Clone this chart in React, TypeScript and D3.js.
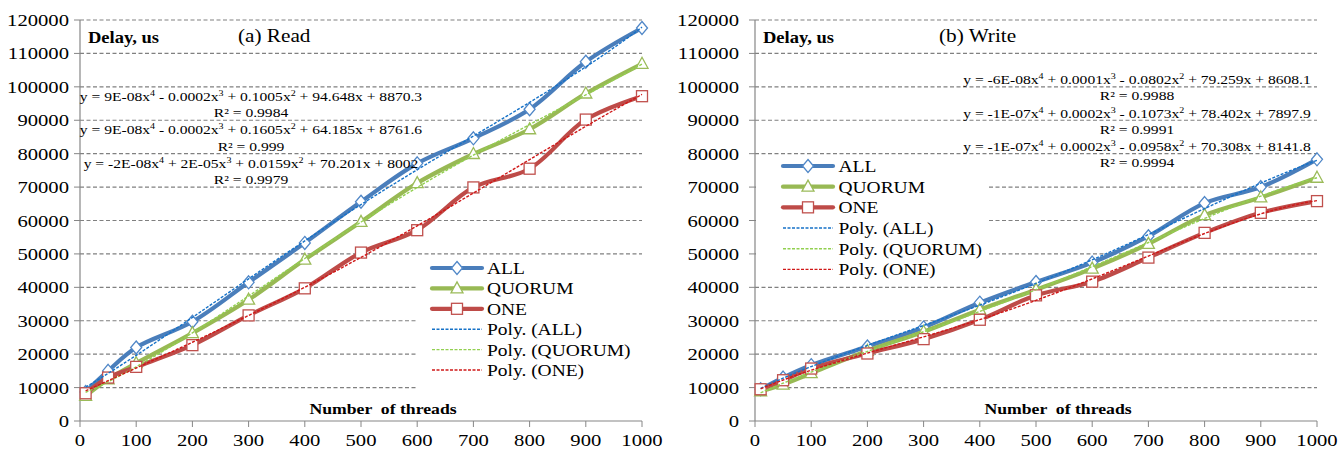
import React from "react";
import * as d3 from "d3";

// ---------- data ----------
const threads = [10, 50, 100, 200, 300, 400, 500, 600, 700, 800, 900, 1000];

const readAll = [8700, 15000, 22000, 29700, 41500, 53300, 65600, 77100, 84600, 93300, 107500, 117600];
const readQuorum = [7500, 12500, 17300, 26300, 36300, 48300, 59600, 71200, 79900, 87300, 98000, 106900];
const readOne = [8300, 13000, 16200, 22700, 31600, 39700, 50400, 57100, 69900, 75500, 90200, 97200];

const writeAll = [9500, 13000, 16700, 22300, 28000, 35400, 41600, 47400, 55300, 65200, 70000, 78300];
const writeQuorum = [8900, 10900, 14300, 21000, 26700, 33300, 39300, 45600, 53000, 61600, 66900, 72800];
const writeOne = [9500, 12200, 15700, 20200, 24500, 30300, 37600, 41700, 48900, 56300, 62300, 65800];

const yTicks = [0, 10000, 20000, 30000, 40000, 50000, 60000, 70000, 80000, 90000, 100000, 110000, 120000];
const xTicks = [0, 100, 200, 300, 400, 500, 600, 700, 800, 900, 1000];

const seriesNames = ["ALL", "QUORUM", "ONE"];
const trendNames = ["Poly. (ALL)", "Poly. (QUORUM)", "Poly. (ONE)"];

const readEquations = [
  "y = 9E-08x^4 - 0.0002x^3 + 0.1005x^2 + 94.648x + 8870.3",
  "y = 9E-08x^4 - 0.0002x^3 + 0.1605x^2 + 64.185x + 8761.6",
  "y = -2E-08x^4 + 2E-05x^3 + 0.0159x^2 + 70.201x + 8002",
];
const readR2 = ["R² = 0.9984", "R² = 0.999", "R² = 0.9979"];
const writeEquations = [
  "y = -6E-08x^4 + 0.0001x^3 - 0.0802x^2 + 79.259x + 8608.1",
  "y = -1E-07x^4 + 0.0002x^3 - 0.1073x^2 + 78.402x + 7897.9",
  "y = -1E-07x^4 + 0.0002x^3 - 0.0958x^2 + 70.308x + 8141.8",
];
const writeR2 = ["R² = 0.9988", "R² = 0.9991", "R² = 0.9994"];

// ---------- styles ----------
const lineColors = ["#4A7EBB", "#98B954", "#BE4B48"];
const markerColors = ["#5087C7", "#9BBB59", "#C0504D"];
const trendColors = ["#1672C8", "#92D050", "#D01818"];
const FONT = "Liberation Serif, Times New Roman, Times, serif";
const SX = 1.18;

function polyFit(xs: number[], ys: number[], deg: number) {
  const n = deg + 1;
  const A: number[][] = Array.from({ length: n }, () => new Array(n + 1).fill(0));
  xs.forEach((x0, i) => {
    const x = x0 / 1000;
    const pw: number[] = [];
    for (let k = 0; k < 2 * n; k++) pw.push(Math.pow(x, k));
    for (let r = 0; r < n; r++) {
      for (let c = 0; c < n; c++) A[r][c] += pw[r + c];
      A[r][n] += ys[i] * pw[r];
    }
  });
  for (let col = 0; col < n; col++) {
    let piv = col;
    for (let r = col + 1; r < n; r++) if (Math.abs(A[r][col]) > Math.abs(A[piv][col])) piv = r;
    [A[col], A[piv]] = [A[piv], A[col]];
    for (let r = 0; r < n; r++) {
      if (r === col) continue;
      const f = A[r][col] / A[col][col];
      for (let c = col; c <= n; c++) A[r][c] -= f * A[col][c];
    }
  }
  const coef = A.map((row, i) => row[n] / row[i]);
  return (x0: number) => {
    const x = x0 / 1000;
    return coef.reduce((s, c, k) => s + c * Math.pow(x, k), 0);
  };
}

function T(props: any) {
  const { x, y, size, anchor = "start", weight = "normal", sx = SX, children } = props;
  return (
    <g transform={`translate(${x},${y}) scale(${sx},1)`}>
      <text
        fontSize={size}
        textAnchor={anchor}
        fontWeight={weight}
        fill="#000"
        style={{ whiteSpace: "pre", fontFamily: FONT }}
      >
        {children}
      </text>
    </g>
  );
}

function Eq({ x, y, str }: { x: number; y: number; str: string }) {
  const parts = str.split(/\^(\d)/);
  return (
    <T x={x} y={y} size={13.2} anchor="middle">
      {parts.map((p, i) =>
        i % 2 ? (
          <tspan key={i} fontSize={8.5} dy={-5}>
            {p}
          </tspan>
        ) : (
          <tspan key={i} dy={i > 0 ? 5 : 0}>
            {p}
          </tspan>
        )
      )}
    </T>
  );
}

function Marker({ kind, x, y, color }: { kind: number; x: number; y: number; color: string }) {
  if (kind === 0)
    return (
      <path
        d={`M${x},${y - 6.5}L${x + 5.5},${y}L${x},${y + 6.5}L${x - 5.5},${y}Z`}
        fill="#fff"
        stroke={color}
        strokeWidth={1.3}
      />
    );
  if (kind === 1)
    return (
      <path
        d={`M${x},${y - 6.5}L${x + 6},${y + 4.5}L${x - 6},${y + 4.5}Z`}
        fill="#fff"
        stroke={color}
        strokeWidth={1.3}
      />
    );
  return <rect x={x - 5.5} y={y - 5.5} width={11} height={11} fill="#fff" stroke={color} strokeWidth={1.3} />;
}

type PanelProps = {
  xr: [number, number];
  series: number[][];
  title: string;
  titleX: number;
  delayX: number;
  labelRight: number;
  eqs: string[];
  r2: string[];
  eqX: number;
  eqY: number[];
  legendBox: { x: number; y: number; w: number; h: number };
  legendY0: number;
  legendStep: number;
  legendLineX: [number, number];
  legendTextX: number;
  xTitleX: number;
};

function Panel(p: PanelProps) {
  const x = d3.scaleLinear().domain([0, 1000]).range(p.xr);
  const y = d3.scaleLinear().domain([0, 120000]).range([421, 20]);
  const line = d3
    .line<number>()
    .x((_, i) => x(threads[i]))
    .y((d) => y(d))
    .curve(d3.curveCatmullRom.alpha(0.5));
  const samples = d3.range(10, 1000.01, 5);
  const trends = p.series.map((s) => {
    const f = polyFit(threads, s, 4);
    return d3
      .line<number>()
      .x((d) => x(d))
      .y((d) => y(f(d)))(samples);
  });
  const x0 = p.xr[0];
  const x1 = p.xr[1];
  const lb = p.legendBox;
  return (
    <g>
      {yTicks.map((t) =>
        t > 0 ? (
          <line
            key={t}
            x1={x0}
            x2={x1}
            y1={y(t)}
            y2={y(t)}
            stroke="#808080"
            strokeWidth={1.2}
            strokeDasharray="4,2.5"
          />
        ) : null
      )}
      <rect x={lb.x} y={lb.y} width={lb.w} height={lb.h} fill="#fff" />
      {/* axes */}
      <line x1={x0} x2={x0} y1={y(120000)} y2={y(0)} stroke="#868686" strokeWidth={1.2} />
      <line x1={x0} x2={x1} y1={y(0)} y2={y(0)} stroke="#868686" strokeWidth={1.2} />
      {yTicks.map((t) => (
        <line key={"yt" + t} x1={x0 - 6} x2={x0} y1={y(t)} y2={y(t)} stroke="#868686" />
      ))}
      {xTicks.map((t) => (
        <line key={"xt" + t} x1={x(t)} x2={x(t)} y1={y(0)} y2={y(0) + 6} stroke="#868686" />
      ))}
      {yTicks.map((t) => (
        <T key={"yl" + t} x={p.labelRight} y={y(t) + 6} size={17.5} anchor="end">
          {String(t)}
        </T>
      ))}
      {xTicks.map((t) => (
        <T key={"xl" + t} x={x(t)} y={446} size={17.5} anchor="middle">
          {String(t)}
        </T>
      ))}
      {/* series */}
      {p.series.map((s, k) => (
        <g key={"s" + k}>
          <path d={line(s) || ""} fill="none" stroke={lineColors[k]} strokeWidth={4.2} strokeLinejoin="round" />
          {s.map((v, i) => (
            <Marker key={i} kind={k} x={x(threads[i])} y={y(v)} color={markerColors[k]} />
          ))}
        </g>
      ))}
      {trends.map((d, k) => (
        <path
          key={"t" + k}
          d={d || ""}
          fill="none"
          stroke={trendColors[k]}
          strokeWidth={1.4}
          strokeDasharray="3,1.5"
        />
      ))}
      {/* legend */}
      {seriesNames.map((n, k) => {
        const ly = p.legendY0 + k * p.legendStep;
        const mx = (p.legendLineX[0] + p.legendLineX[1]) / 2;
        return (
          <g key={"l" + k}>
            <line
              x1={p.legendLineX[0]}
              x2={p.legendLineX[1]}
              y1={ly}
              y2={ly}
              stroke={lineColors[k]}
              strokeWidth={4.2}
              strokeLinecap="round"
            />
            <Marker kind={k} x={mx} y={ly} color={markerColors[k]} />
            <T x={p.legendTextX} y={ly + 6} size={16.5}>
              {n}
            </T>
          </g>
        );
      })}
      {trendNames.map((n, k) => {
        const ly = p.legendY0 + (k + 3) * p.legendStep;
        return (
          <g key={"lt" + k}>
            <line
              x1={p.legendLineX[0]}
              x2={p.legendLineX[1]}
              y1={ly}
              y2={ly}
              stroke={trendColors[k]}
              strokeWidth={1.4}
              strokeDasharray="3,1.5"
            />
            <T x={p.legendTextX} y={ly + 6} size={16.5}>
              {n}
            </T>
          </g>
        );
      })}
      {/* texts */}
      <T x={p.delayX} y={42.5} size={15.7} weight="bold">
        Delay, us
      </T>
      <T x={p.titleX} y={42} size={18}>
        {p.title}
      </T>
      {p.eqs.map((e, k) => (
        <g key={"e" + k}>
          <Eq x={p.eqX} y={p.eqY[2 * k]} str={e} />
          <T x={p.eqX} y={p.eqY[2 * k + 1]} size={13.2} anchor="middle">
            {p.r2[k]}
          </T>
        </g>
      ))}
      <T x={p.xTitleX} y={413.5} size={15} weight="bold" anchor="middle">
        {"Number  of threads"}
      </T>
    </g>
  );
}

export default function App() {
  return (
    <svg
      width={1339}
      height={452}
      style={{ position: "absolute", left: 0, top: 0, background: "#fff" }}
    >
      <rect x={0} y={0} width={1339} height={452} fill="#fff" />
      <Panel
        xr={[80, 642]}
        series={[readAll, readQuorum, readOne]}
        title="(a) Read"
        titleX={238}
        delayX={88}
        labelRight={69}
        eqs={readEquations}
        r2={readR2}
        eqX={251}
        eqY={[100.5, 116.5, 134, 151, 167.5, 184]}
        legendBox={{ x: 418, y: 257, w: 228, h: 137 }}
        legendY0={268}
        legendStep={20.4}
        legendLineX={[432, 482]}
        legendTextX={487}
        xTitleX={383}
      />
      <Panel
        xr={[755, 1317]}
        series={[writeAll, writeQuorum, writeOne]}
        title="(b) Write"
        titleX={939}
        delayX={763}
        labelRight={739}
        eqs={writeEquations}
        r2={writeR2}
        eqX={1137}
        eqY={[83.5, 100, 117.5, 133.5, 150.5, 167]}
        legendBox={{ x: 756, y: 156, w: 233, h: 126 }}
        legendY0={166}
        legendStep={20.67}
        legendLineX={[783, 833]}
        legendTextX={838.5}
        xTitleX={1058}
      />
    </svg>
  );
}
